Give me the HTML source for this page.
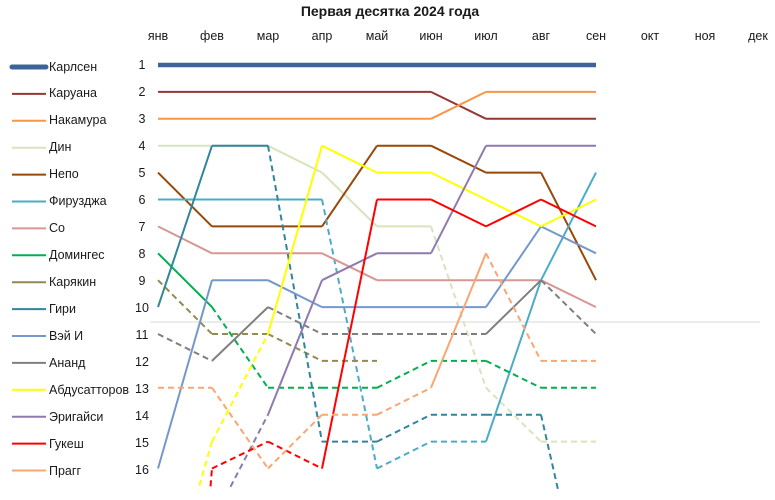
<!DOCTYPE html>
<html><head><meta charset="utf-8"><style>
html,body{margin:0;padding:0;background:#fff;width:775px;height:500px;overflow:hidden;}
svg{display:block;font-family:"Liberation Sans",sans-serif;}
text{fill:#1a1a1a;font-size:12.5px;}
</style></head><body>
<svg id="s" width="775" height="500" viewBox="0 0 775 500">
<defs><clipPath id="c"><rect x="0" y="50" width="775" height="440"/></clipPath></defs>
<text x="390" y="16" text-anchor="middle" style="font-weight:bold;font-size:14px">Первая десятка 2024 года</text>
<g text-anchor="middle">
<text x="158" y="40">янв</text><text x="212" y="40">фев</text><text x="268" y="40">мар</text><text x="322" y="40">апр</text><text x="377" y="40">май</text><text x="431" y="40">июн</text><text x="486" y="40">июл</text><text x="541" y="40">авг</text><text x="596" y="40">сен</text><text x="650" y="40">окт</text><text x="705" y="40">ноя</text><text x="758" y="40">дек</text>
</g>
<g text-anchor="middle">
<text x="142" y="69">1</text><text x="142" y="96">2</text><text x="142" y="123">3</text><text x="142" y="150">4</text><text x="142" y="177">5</text><text x="142" y="204">6</text><text x="142" y="231">7</text><text x="142" y="258">8</text><text x="142" y="285">9</text><text x="142" y="312">10</text><text x="142" y="339">11</text><text x="142" y="366">12</text><text x="142" y="393">13</text><text x="142" y="420">14</text><text x="142" y="447">15</text><text x="142" y="474">16</text>
</g>
<line x1="150" y1="322" x2="760" y2="322" stroke="#d9d9d9" stroke-width="1"/>
<g>
<text x="49" y="71">Карлсен</text><text x="49" y="97">Каруана</text><text x="49" y="124">Накамура</text><text x="49" y="151">Дин</text><text x="49" y="178">Непо</text><text x="49" y="205">Фирузджа</text><text x="49" y="232">Со</text><text x="49" y="259">Домингес</text><text x="49" y="286">Карякин</text><text x="49" y="313">Гири</text><text x="49" y="340">Вэй И</text><text x="49" y="367">Ананд</text><text x="49" y="394">Абдусатторов</text><text x="49" y="421">Эригайси</text><text x="49" y="448">Гукеш</text><text x="49" y="475">Прагг</text>
</g>
<g id="leg"></g>
<g id="lines" clip-path="url(#c)" fill="none" stroke-linejoin="round"></g>
</svg>
<script>
var X=[158,212,268,322,377,431,486,541,596];
function Y(r){return 65+(r-1)*26.9;}
var S=[
["#3C6496",5,[1,1,1,1,1,1,1,1,1]],
["#953735",2,[2,2,2,2,2,2,3,3,3]],
["#F79646",2,[3,3,3,3,3,3,2,2,2]],
["#D7E4BD",2,[4,4,4,5,7,7,13,15,15]],
["#984807",2,[5,7,7,7,4,4,5,5,9]],
["#4BACC6",2,[6,6,6,6,16,15,15,9,5]],
["#D99694",2,[7,8,8,8,9,9,9,9,10]],
["#00B050",2,[8,10,13,13,13,12,12,13,13]],
["#948A54",2,[9,11,11,12,12]],
["#31859C",2,[10,4,4,15,15,14,14,14,23]],
["#7598CA",2,[16,9,9,10,10,10,10,7,8]],
["#7F7F7F",2,[11,12,10,11,11,11,11,9,11]],
["#FFFF00",2,[22,15,11,4,5,5,6,7,6]],
["#8F7AB0",2,[20,18,14,9,8,8,4,4,4]],
["#FF0000",2,[40,16,15,16,6,6,7,6,7]],
["#F9A673",2,[13,13,16,14,14,13,8,12,12]]
];
var ns="http://www.w3.org/2000/svg",L=document.getElementById("lines"),G=document.getElementById("leg");
S.forEach(function(s,i){
 var d=s[2];
 for(var k=1;k<d.length;k++){
  var l=document.createElementNS(ns,"line");
  l.setAttribute("x1",X[k-1]);l.setAttribute("y1",Y(d[k-1]));
  l.setAttribute("x2",X[k]);l.setAttribute("y2",Y(d[k]));
  l.setAttribute("stroke",s[0]);l.setAttribute("stroke-width",s[1]==5?4.5:2);
  if(d[k]>10)l.setAttribute("stroke-dasharray","6 4");
  L.appendChild(l);
 }
 var g=document.createElementNS(ns,"line");
 var y=Y(i+1)+2;
 g.setAttribute("x1",12);g.setAttribute("x2",46);g.setAttribute("y1",y);g.setAttribute("y2",y);
 g.setAttribute("stroke",s[0]);g.setAttribute("stroke-width",s[1]==5?5:2);
 if(s[1]==5)g.setAttribute("stroke-linecap","round");
 G.appendChild(g);
});
</script>
</body></html>
